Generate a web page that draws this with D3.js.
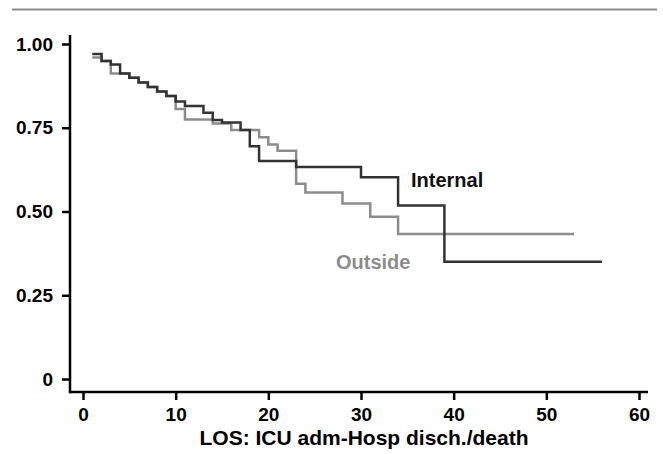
<!DOCTYPE html>
<html><head><meta charset="utf-8">
<script src="https://cdn.jsdelivr.net/npm/d3@7"></script>
<style>body{margin:0;background:#fff}svg{display:block}text{font-family:"Liberation Sans",Arial,sans-serif;font-weight:bold}</style>
</head><body><svg id="c" width="663" height="454"></svg>
<script>
const internalTimes = [1, 2, 3, 4, 5, 6, 7, 8, 9, 10, 11, 13, 14, 15, 17, 18, 19, 23, 30, 34, 39];
const internalSurv  = [0.970, 0.949, 0.939, 0.912, 0.899, 0.885, 0.872, 0.858, 0.845, 0.828, 0.815, 0.795, 0.773, 0.766, 0.743, 0.695, 0.651, 0.633, 0.602, 0.518, 0.350];
const internalEnd = 56;
const outsideTimes = [1, 2, 3, 5, 6, 7, 8, 9, 10, 11, 14, 16, 19, 20, 21, 23, 24, 28, 31, 34];
const outsideSurv  = [0.960, 0.949, 0.912, 0.899, 0.885, 0.872, 0.858, 0.845, 0.806, 0.775, 0.763, 0.743, 0.722, 0.700, 0.681, 0.583, 0.557, 0.524, 0.484, 0.433];
const outsideEnd = 53;
const xTicks = [0, 10, 20, 30, 40, 50, 60];
const yTicks = [0, 0.25, 0.5, 0.75, 1];
const yTickLabels = ["0", "0.25", "0.50", "0.75", "1.00"];
const xTitle = "LOS: ICU adm-Hosp disch./death";
const seriesNames = ["Internal", "Outside"];

const svg = d3.select("#c");
const x = d3.scaleLinear().domain([0, 60]).range([83, 639]);
const y = d3.scaleLinear().domain([0, 1]).range([379, 44]);

// top rule
svg.append("line").attr("x1", 12).attr("x2", 657).attr("y1", 9.5).attr("y2", 9.5)
  .attr("stroke", "#8a8a8a").attr("stroke-width", 2);

// axes
const xAxis = svg.append("g").attr("transform", "translate(0,392)")
  .call(d3.axisBottom(x).tickValues(xTicks).tickSize(8).tickPadding(7).tickFormat(d3.format("d")));
xAxis.select(".domain").remove();
svg.append("line").attr("x1", 70).attr("x2", 648).attr("y1", 392).attr("y2", 392).attr("stroke", "#000").attr("stroke-width", 2.5);
const yAxis = svg.append("g").attr("transform", "translate(70,0)")
  .call(d3.axisLeft(y).tickValues(yTicks).tickSize(8).tickPadding(9).tickFormat((d, i) => yTickLabels[i]));
yAxis.select(".domain").remove();
svg.append("line").attr("x1", 70).attr("x2", 70).attr("y1", 35).attr("y2", 393.2).attr("stroke", "#000").attr("stroke-width", 2.5);
svg.selectAll(".tick line").attr("stroke", "#000").attr("stroke-width", 2.5);
svg.selectAll(".tick text").attr("fill", "#000").style("font-size", "19px").style("font-family", "'Liberation Sans',Arial,sans-serif").style("font-weight", "bold");
xAxis.selectAll(".tick text").attr("dy", "0.72em");

svg.append("text").attr("x", 364).attr("y", 445).attr("text-anchor", "middle")
  .style("font-size", "21px").attr("fill", "#000").text(xTitle);

function steps(times, surv, end) {
  const pts = times.map((t, i) => [t, surv[i]]);
  pts.push([end, surv[surv.length - 1]]);
  return pts;
}
const line = d3.line().x(d => x(d[0])).y(d => y(d[1])).curve(d3.curveStepAfter);

svg.append("path").datum(steps(outsideTimes, outsideSurv, outsideEnd)).attr("d", line)
  .attr("fill", "none").attr("stroke", "#8c8c8c").attr("stroke-width", 2.5);
svg.append("path").datum(steps(internalTimes, internalSurv, internalEnd)).attr("d", line)
  .attr("fill", "none").attr("stroke", "#333").attr("stroke-width", 2.5);

svg.append("text").attr("x", 411).attr("y", 187).style("font-size", "20px").attr("fill", "#111").text(seriesNames[0]);
svg.append("text").attr("x", 336).attr("y", 269).style("font-size", "20px").attr("fill", "#8c8c8c").text(seriesNames[1]);
</script></body></html>
